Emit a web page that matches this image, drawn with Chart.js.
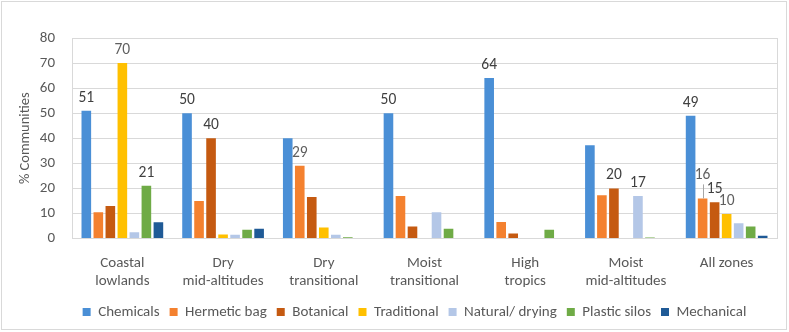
<!DOCTYPE html>
<html>
<head>
<meta charset="utf-8">
<script src="https://cdn.jsdelivr.net/npm/chart.js@4/dist/chart.umd.min.js"></script>
<style>
  html, body { margin: 0; padding: 0; background: #fff; }
  #wrap { width: 789px; height: 332px; position: relative; }
</style>
</head>
<body>
<div id="wrap"><canvas id="chart"></canvas></div>
<script>
// Chart data
const categories = [
    ['Coastal', 'lowlands'],
    ['Dry', 'mid-altitudes'],
    ['Dry', 'transitional'],
    ['Moist', 'transitional'],
    ['High', 'tropics'],
    ['Moist', 'mid-altitudes'],
    ['All zones']
];
const seriesNames = ['Chemicals', 'Hermetic bag', 'Botanical', 'Traditional', 'Natural/ drying', 'Plastic silos', 'Mechanical'];

const chemicals     = [51, 50, 40, 50, 64, 37.2, 49];
const hermeticBag   = [10.5, 15, 29, 17, 6.6, 17.3, 16];
const botanical     = [13, 40, 16.6, 4.8, 2, 20, 14.5];
const traditional   = [70, 1.6, 4.4, 0, 0, 0, 9.8];
const naturalDrying = [2.5, 1.5, 1.5, 10.5, 0, 17, 6.1];
const plasticSilos  = [21, 3.5, 0.5, 3.9, 3.5, 0.4, 4.8];
const mechanical    = [6.5, 3.9, 0, 0, 0, 0, 1.1];

const yTicks = [0, 10, 20, 30, 40, 50, 60, 70, 80];

// which bars carry a value label: [series, category]
const labelledBars = [
    [0, 0], [3, 0], [5, 0],
    [0, 1], [2, 1],
    [1, 2],
    [0, 3],
    [0, 4],
    [2, 5], [4, 5],
    [0, 6], [1, 6], [2, 6], [3, 6]
];

// styling
const FONT = "Carlito, Lato, sans-serif";
const TEXT = '#595959';
const GRID = '#d9d9d9';
const colors = ['#4A8FD6', '#F4812F', '#C55A11', '#FFC000', '#B4C7E7', '#6FAB46', '#1F5A96'];
const lightLabels = { '3,0': true, '1,2': true, '1,6': true, '3,6': true };
const leaderLabels = { '1,6': true };
const LEGEND_SHIFT_X = 26;
const LEGEND_SHIFT_Y = 2;

const allSeries = [chemicals, hermeticBag, botanical, traditional, naturalDrying, plasticSilos, mechanical];

// value labels + frames
const decorPlugin = {
    id: 'decor',
    afterLayout(chart) {
        // the legend sits a bit right of centre in the reference
        chart.legend.left += LEGEND_SHIFT_X;
        chart.legend.right += LEGEND_SHIFT_X;
        chart.legend.top += LEGEND_SHIFT_Y;
        chart.legend.bottom += LEGEND_SHIFT_Y;
    },
    beforeDraw(chart) {
        const ctx = chart.ctx;
        ctx.save();
        ctx.strokeStyle = GRID;
        ctx.lineWidth = 1;
        ctx.strokeRect(1.5, 1.5, chart.width - 4, chart.height - 4);
        ctx.restore();
    },
    afterDatasetsDraw(chart) {
        const ctx = chart.ctx;
        const area = chart.chartArea;
        ctx.save();
        ctx.strokeStyle = GRID;
        ctx.lineWidth = 1;
        ctx.beginPath();
        ctx.moveTo(Math.round(area.right) + 0.5, area.top);
        ctx.lineTo(Math.round(area.right) + 0.5, area.bottom);
        ctx.stroke();

        ctx.font = '15.5px ' + FONT;
        ctx.textAlign = 'center';
        ctx.textBaseline = 'middle';
        labelledBars.forEach(([s, c]) => {
            const bar = chart.getDatasetMeta(s).data[c];
            const key = s + ',' + c;
            const lift = leaderLabels[key] ? 23 : 13;
            if (leaderLabels[key]) {
                ctx.strokeStyle = '#a6a6a6';
                ctx.beginPath();
                ctx.moveTo(Math.round(bar.x) + 0.5, bar.y - lift + 9);
                ctx.lineTo(Math.round(bar.x) + 0.5, bar.y);
                ctx.stroke();
            }
            ctx.fillStyle = lightLabels[key] ? '#5f5f5f' : '#404040';
            ctx.fillText(String(Math.round(allSeries[s][c])), bar.x, bar.y - lift);
        });
        ctx.restore();
    }
};

const chart = new Chart(document.getElementById('chart'), {
    type: 'bar',
    data: {
        labels: categories,
        datasets: allSeries.map((vals, i) => ({
            label: seriesNames[i],
            data: vals,
            backgroundColor: colors[i],
            borderWidth: 0,
            categoryPercentage: 0.835,
            barPercentage: 0.8
        }))
    },
    options: {
        responsive: true,
        maintainAspectRatio: false,
        animation: false,
        layout: { padding: { top: 38, right: 12, left: 0, bottom: 4.5 } },
        plugins: {
            legend: {
                position: 'bottom',
                labels: {
                    boxWidth: 8,
                    boxHeight: 8,
                    padding: 10,
                    color: TEXT,
                    font: { family: FONT, size: 15 }
                }
            },
            tooltip: { enabled: false }
        },
        scales: {
            x: {
                grid: { display: false },
                border: { color: GRID },
                ticks: {
                    color: TEXT,
                    font: { family: FONT, size: 15, lineHeight: 1.2 },
                    padding: 8,
                    maxRotation: 0,
                    autoSkip: false
                },
                afterFit(scale) { scale.height = 54; }
            },
            y: {
                min: 0,
                max: 80,
                afterBuildTicks(scale) { scale.ticks = yTicks.map(v => ({ value: v })); },
                grid: { color: GRID, drawTicks: false },
                border: { color: GRID },
                ticks: {
                    color: TEXT,
                    font: { family: FONT, size: 15 },
                    padding: 17
                },
                title: {
                    display: true,
                    text: '% Communities',
                    color: TEXT,
                    font: { family: FONT, size: 14.5 },
                    padding: { top: 17, bottom: 0 }
                },
                afterFit(scale) { scale.width = 72; }
            }
        }
    },
    plugins: [decorPlugin]
});
</script>
</body>
</html>
